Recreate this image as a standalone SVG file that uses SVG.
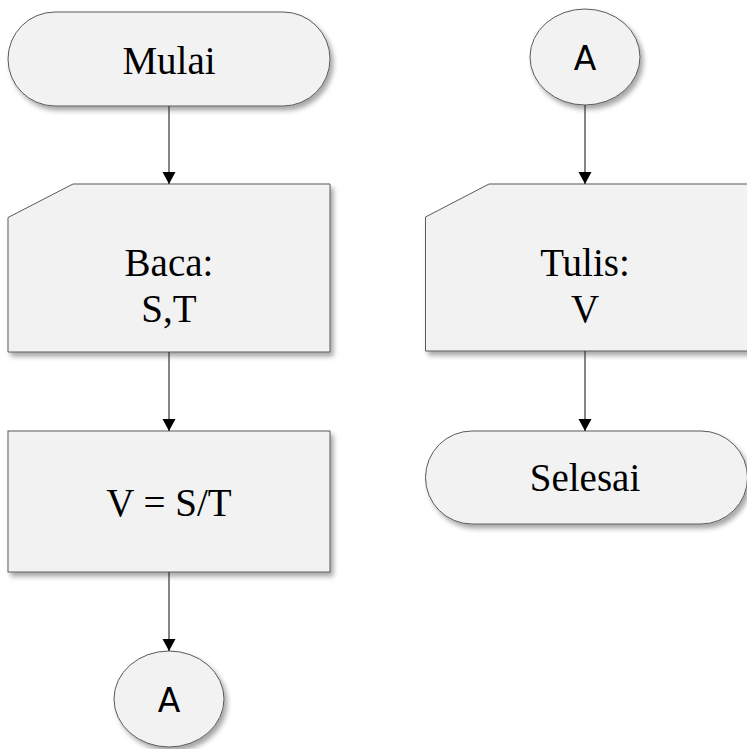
<svg xmlns="http://www.w3.org/2000/svg" width="747" height="749" viewBox="0 0 747 749">
<defs>
<filter id="sh" x="-10%" y="-10%" width="130%" height="140%">
<feDropShadow dx="3" dy="4" stdDeviation="2.5" flood-color="#000" flood-opacity="0.35"/>
</filter>
<marker id="arr" markerUnits="userSpaceOnUse" markerWidth="14" markerHeight="14" refX="12" refY="6.5" orient="auto">
<path d="M0,0 L12,6.5 L0,13 Z" fill="#000"/>
</marker>
<style>
.s{fill:#f2f2f2;stroke:#5a5a5a;stroke-width:1;filter:url(#sh)}
.t{font-family:"Liberation Serif","Times New Roman",serif;font-size:39px;fill:#000;text-anchor:middle}
.a{font-family:"DejaVu Sans","Liberation Sans",sans-serif;font-size:33px;fill:#000;text-anchor:middle}
.c{stroke:#333;stroke-width:1.2;fill:none;marker-end:url(#arr)}
</style>
</defs>
<g id="mulai"><rect class="s" x="8" y="12" width="322" height="94" rx="47" ry="47"/><text class="t" x="169" y="74">Mulai</text></g>
<g id="baca"><path class="s" d="M73,184 L330,184 L330,352 L8,352 L8,217.5 Z"/><text class="t" x="169" y="276">Baca:</text><text class="t" x="169" y="322">S,T</text></g>
<g id="proses"><rect class="s" x="8" y="431" width="322" height="141"/><text class="t" x="169" y="516">V = S/T</text></g>
<g id="konektorA1"><ellipse class="s" cx="169" cy="699" rx="55" ry="48"/><text class="a" x="169" y="712">A</text></g>
<g id="konektorA2"><ellipse class="s" cx="585" cy="57" rx="55" ry="48"/><text class="a" x="585" y="70">A</text></g>
<g id="tulis"><path class="s" d="M489,184 L760,184 L760,351 L425.5,351 L425.5,217 Z"/><text class="t" x="585" y="276">Tulis:</text><text class="t" x="585" y="322">V</text></g>
<g id="selesai"><rect class="s" x="425.5" y="431" width="322" height="93" rx="46.5" ry="46.5"/><text class="t" x="585" y="491">Selesai</text></g>
<g id="connectors">
<line class="c" x1="169" y1="106" x2="169" y2="184"/>
<line class="c" x1="169" y1="352" x2="169" y2="431"/>
<line class="c" x1="169" y1="572" x2="169" y2="651"/>
<line class="c" x1="585" y1="105" x2="585" y2="184"/>
<line class="c" x1="585" y1="351" x2="585" y2="431"/>
</g>
</svg>
